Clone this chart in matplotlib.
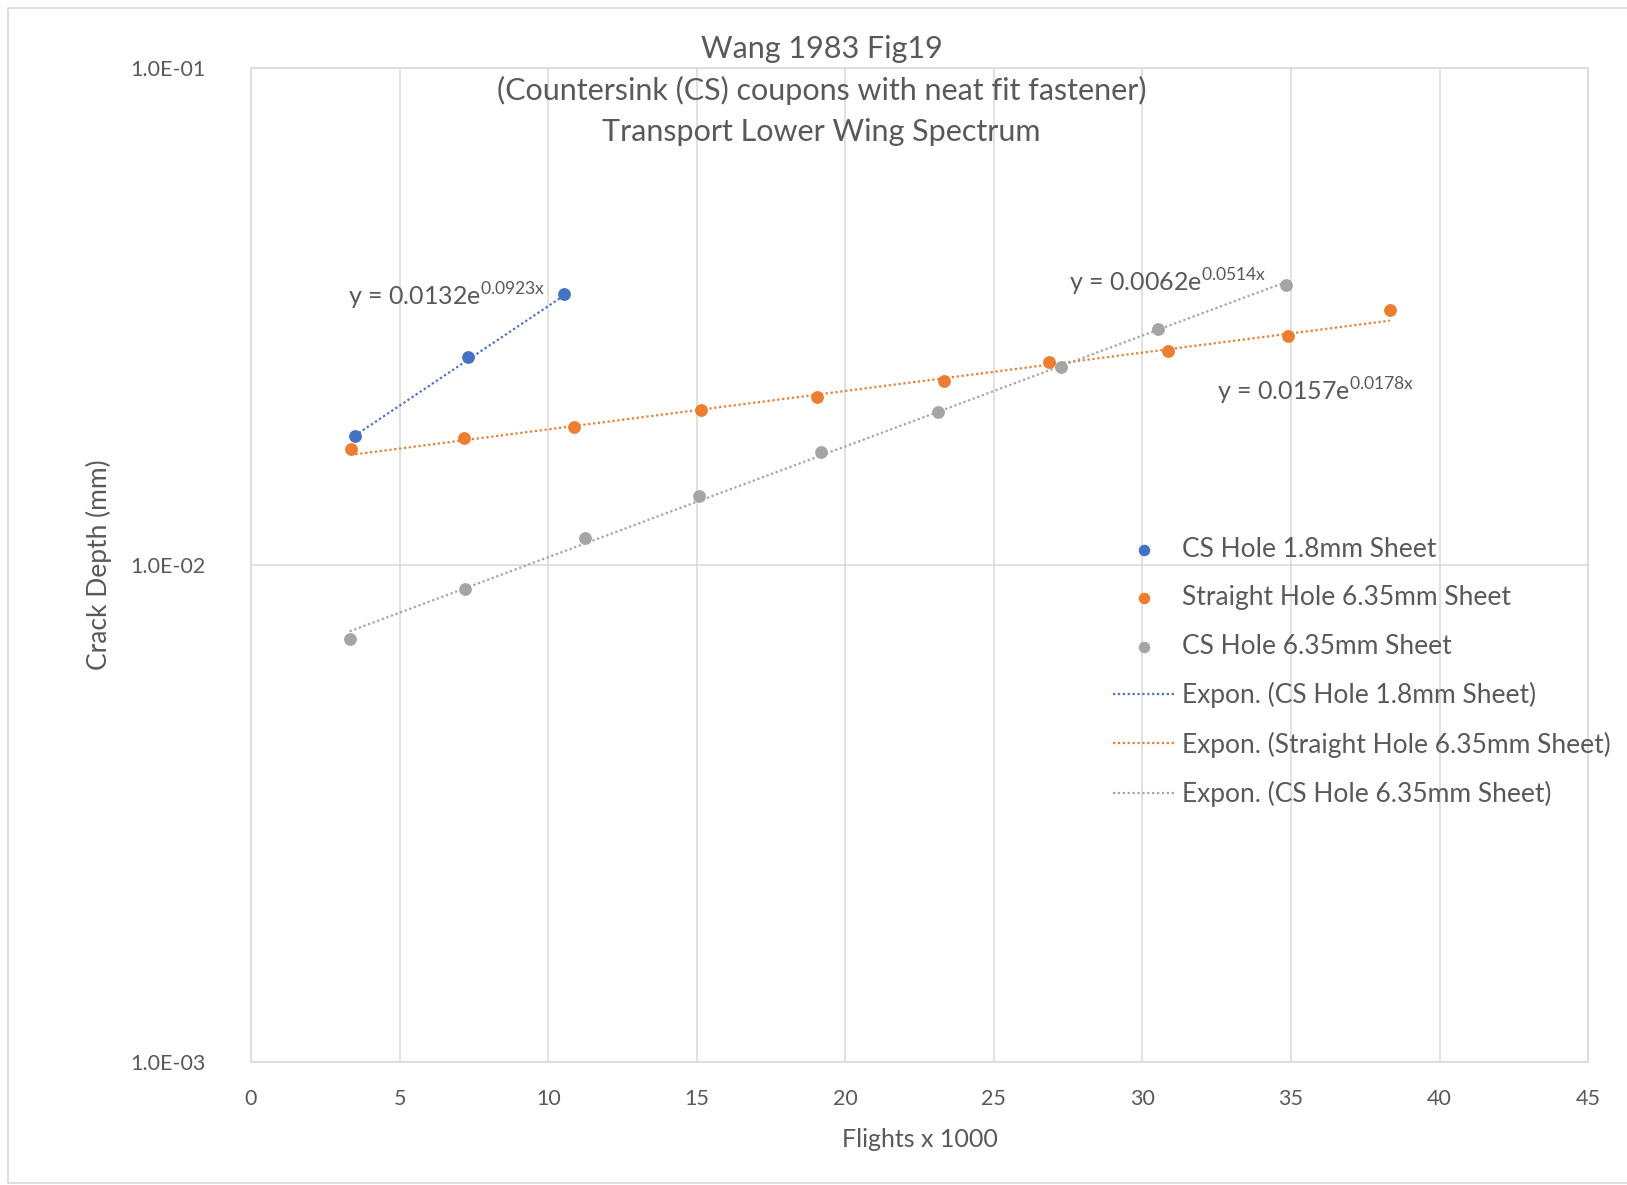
import matplotlib.pyplot as plt
import numpy as np
from matplotlib.patches import Rectangle
from matplotlib.ticker import FixedLocator, FuncFormatter

plt.rcParams["font.family"] = ["Lato", "DejaVu Sans"]
plt.rcParams["mathtext.fontset"] = "custom"
plt.rcParams["mathtext.rm"] = "Lato"

TEXT = "#595959"
GRID = "#D9D9D9"

# flights x 1000 and crack depth (mm)
cs18_x = [3.49, 7.30, 10.52]
cs18_y = [0.0182, 0.0262, 0.0352]

straight_x = [3.35, 7.16, 10.87, 15.13, 19.04, 23.31, 26.87, 30.85, 34.90, 38.33]
straight_y = [0.0171, 0.0180, 0.0190, 0.0205, 0.0218, 0.0235, 0.0256, 0.0270, 0.0289, 0.0327]

cs635_x = [3.32, 7.20, 11.25, 15.06, 19.18, 23.13, 27.25, 30.54, 34.84]
cs635_y = [0.00709, 0.00894, 0.01136, 0.01377, 0.01686, 0.02033, 0.0251, 0.0299, 0.0367]

# trendline coefficients as printed on the chart (y = a * e^(b x))
cs18_fit = (0.0132, 0.0923)
straight_fit = (0.0157, 0.0178)
cs635_fit = (0.0062, 0.0514)

x_ticks = [0, 5, 10, 15, 20, 25, 30, 35, 40, 45]
y_ticks = [1e-3, 1e-2, 1e-1]

series = [
    ("CS Hole 1.8mm Sheet", cs18_x, cs18_y, cs18_fit, "#4472C4"),
    ("Straight Hole 6.35mm Sheet", straight_x, straight_y, straight_fit, "#ED7D31"),
    ("CS Hole 6.35mm Sheet", cs635_x, cs635_y, cs635_fit, "#A5A5A5"),
]


def main():
    fig = plt.figure(figsize=(16.27, 11.85), dpi=100)
    ax = fig.add_axes([0.1543, 0.1042, 0.8218, 0.838])

    # chart border
    fig.patches.append(Rectangle((8 / 1627, 2 / 1185), 1.2, (1185 - 10) / 1185,
                                 transform=fig.transFigure, fill=False,
                                 edgecolor=GRID, linewidth=1.2))

    handles = []
    fits = []
    for name, xs, ys, (a, b), color in series:
        h = ax.scatter(xs, ys, s=85, color=color, zorder=3, label=name, linewidths=0)
        handles.append(h)
        xx = np.linspace(min(xs), max(xs), 50)
        (ln,) = ax.plot(xx, a * np.exp(b * xx), linestyle=(0, (1, 1.2)), color=color,
                        linewidth=1.6, zorder=2, label="Expon. (" + name + ")")
        fits.append(ln)

    ax.set_yscale("log")
    ax.set_xlim(0, 45)
    ax.set_ylim(1e-3, 1e-1)
    ax.xaxis.set_major_locator(FixedLocator(x_ticks))
    ax.yaxis.set_major_locator(FixedLocator(y_ticks))
    ax.yaxis.set_minor_locator(FixedLocator([]))
    ax.yaxis.set_major_formatter(FuncFormatter(lambda v, p: "%.1fE-%02d" % (1.0, -int(round(np.log10(v))))))
    ax.tick_params(length=0, labelsize=15.5, labelcolor=TEXT)
    ax.tick_params(axis="x", pad=20)
    ax.tick_params(axis="y", pad=33)
    ax.grid(True, color=GRID, linewidth=1.1)
    ax.set_axisbelow(True)
    for sp in ax.spines.values():
        sp.set_color(GRID)
        sp.set_linewidth(1.1)

    ax.set_xlabel("Flights x 1000", fontsize=18, color=TEXT, va="center")
    ax.xaxis.set_label_coords(0.5, -0.079)
    ax.set_ylabel("Crack Depth (mm)", fontsize=19, color=TEXT, va="center")
    ax.yaxis.set_label_coords(-0.114, 0.5)

    fig.text(0.505, 0.959, "Wang 1983 Fig19", ha="center", va="center", fontsize=22, color=TEXT)
    fig.text(0.505, 0.924, "(Countersink (CS) coupons with neat fit fastener)", ha="center",
             va="center", fontsize=22, color=TEXT)
    fig.text(0.505, 0.889, "Transport Lower Wing Spectrum", ha="center", va="center",
             fontsize=22, color=TEXT)

    ax.text(3.26, 0.0348, r"y = 0.0132e$^{\mathrm{0.0923x}}$", fontsize=18, color=TEXT, va="center")
    ax.text(27.53, 0.0370, r"y = 0.0062e$^{\mathrm{0.0514x}}$", fontsize=18, color=TEXT, va="center")
    ax.text(32.51, 0.0224, r"y = 0.0157e$^{\mathrm{0.0178x}}$", fontsize=18, color=TEXT, va="center")

    fig.legend(handles + fits, [h.get_label() for h in handles + fits],
               loc="upper left", bbox_to_anchor=(1113 / 1627, 1 - 537 / 1185),
               frameon=False, fontsize=19, labelcolor=TEXT, handlelength=2.35,
               handletextpad=0.27, labelspacing=0.885, borderpad=0, borderaxespad=0,
               markerscale=0.9, scatterpoints=1)

    fig.savefig("out.png", dpi=100)


if __name__ == "__main__":
    main()
